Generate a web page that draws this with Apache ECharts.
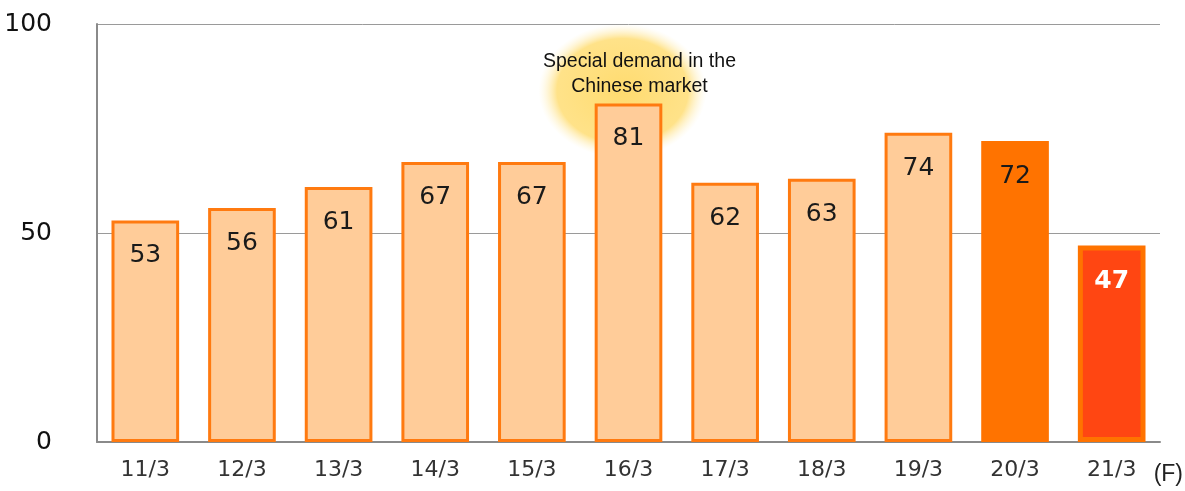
<!DOCTYPE html>
<html>
<head>
<meta charset="utf-8">
<script src="https://cdn.jsdelivr.net/npm/echarts@6/dist/echarts.min.js"></script>
<style>
html,body{margin:0;padding:0;background:#fff;}
#chart{width:1185px;height:491px;}
</style>
</head>
<body>
<div id="chart"></div>
<script>
const categories = ['11/3','12/3','13/3','14/3','15/3','16/3','17/3','18/3','19/3','20/3','21/3'];
const values = [53, 56, 61, 67, 67, 81, 62, 63, 74, 72, 47];
const barKinds = ['past','past','past','past','past','past','past','past','past','recent','forecast'];
const yTicks = [0, 50, 100];
const noteCategory = '16/3';
const noteValue = 88;
const glowValue = 84;
const noteText = 'Special demand in the\nChinese market';
const forecastMark = '(F)';

const kindStyle = {
  past:     {fill:'#FFCC99', border:'#FF7A10', borderWidth:3, label:'#1a1a1a', weight:'normal'},
  recent:   {fill:'#FF7300', border:'#FF7300', borderWidth:3, label:'#1a1a1a', weight:'normal'},
  forecast: {fill:'#FF4612', border:'#FF7300', borderWidth:5, label:'#ffffff', weight:'bold'}
};

const barData = values.map((v, i) => {
  const s = kindStyle[barKinds[i]];
  return {
    value: v,
    itemStyle: {color: s.fill, borderColor: s.border, borderWidth: s.borderWidth},
    label: {color: s.label, fontWeight: s.weight}
  };
});

const chart = echarts.init(document.getElementById('chart'), null, {renderer:'canvas'});
chart.setOption({
  animation: false,
  backgroundColor: '#ffffff',
  grid: {left: 97, right: 25, top: 24, bottom: 49, containLabel: false},
  xAxis: {
    type: 'category',
    data: categories,
    axisLine: {show: true, lineStyle: {color: '#8a8a8a', width: 2}},
    axisTick: {show: false},
    axisLabel: {fontFamily: 'DejaVu Sans', fontSize: 22, color: '#333', margin: 17}
  },
  yAxis: {
    type: 'value',
    min: yTicks[0],
    max: yTicks[yTicks.length - 1],
    interval: yTicks[1] - yTicks[0],
    axisLine: {show: true, lineStyle: {color: '#8a8a8a', width: 2}},
    axisTick: {show: false},
    splitLine: {show: true, lineStyle: {color: '#9a9a9a', width: 1}},
    axisLabel: {fontFamily: 'DejaVu Sans', fontSize: 25, color: '#111', margin: 45}
  },
  series: [
    {
      type: 'scatter',
      z: 1,
      silent: true,
      symbol: 'circle',
      symbolSize: [168, 134],
      symbolOffset: [-6, 0],
      itemStyle: {
        color: {
          type: 'radial', x: 0.5, y: 0.5, r: 0.5,
          colorStops: [
            {offset: 0, color: 'rgba(255,210,75,1)'},
            {offset: 0.78, color: 'rgba(255,216,95,0.92)'},
            {offset: 1, color: 'rgba(255,240,190,0)'}
          ]
        }
      },
      data: [[noteCategory, glowValue]]
    },
    {
      type: 'bar',
      z: 2,
      barWidth: '70%',
      data: barData,
      label: {
        show: true,
        position: 'insideTop',
        distance: 23,
        fontFamily: 'DejaVu Sans',
        fontSize: 25
      },
      markPoint: {
        symbol: 'circle',
        symbolSize: 0,
        silent: true,
        data: [{coord: [noteCategory, noteValue]}],
        label: {
          show: true,
          position: 'inside',
          offset: [11, 0],
          formatter: noteText,
          fontFamily: 'Liberation Sans',
          fontSize: 19.5,
          lineHeight: 25,
          color: '#111',
          align: 'center'
        }
      }
    }
  ],
  graphic: [
    {
      type: 'text',
      right: 2,
      top: 463,
      style: {text: forecastMark, fontFamily: 'Liberation Sans', fontSize: 23, fill: '#222'}
    }
  ]
});
</script>
</body>
</html>
